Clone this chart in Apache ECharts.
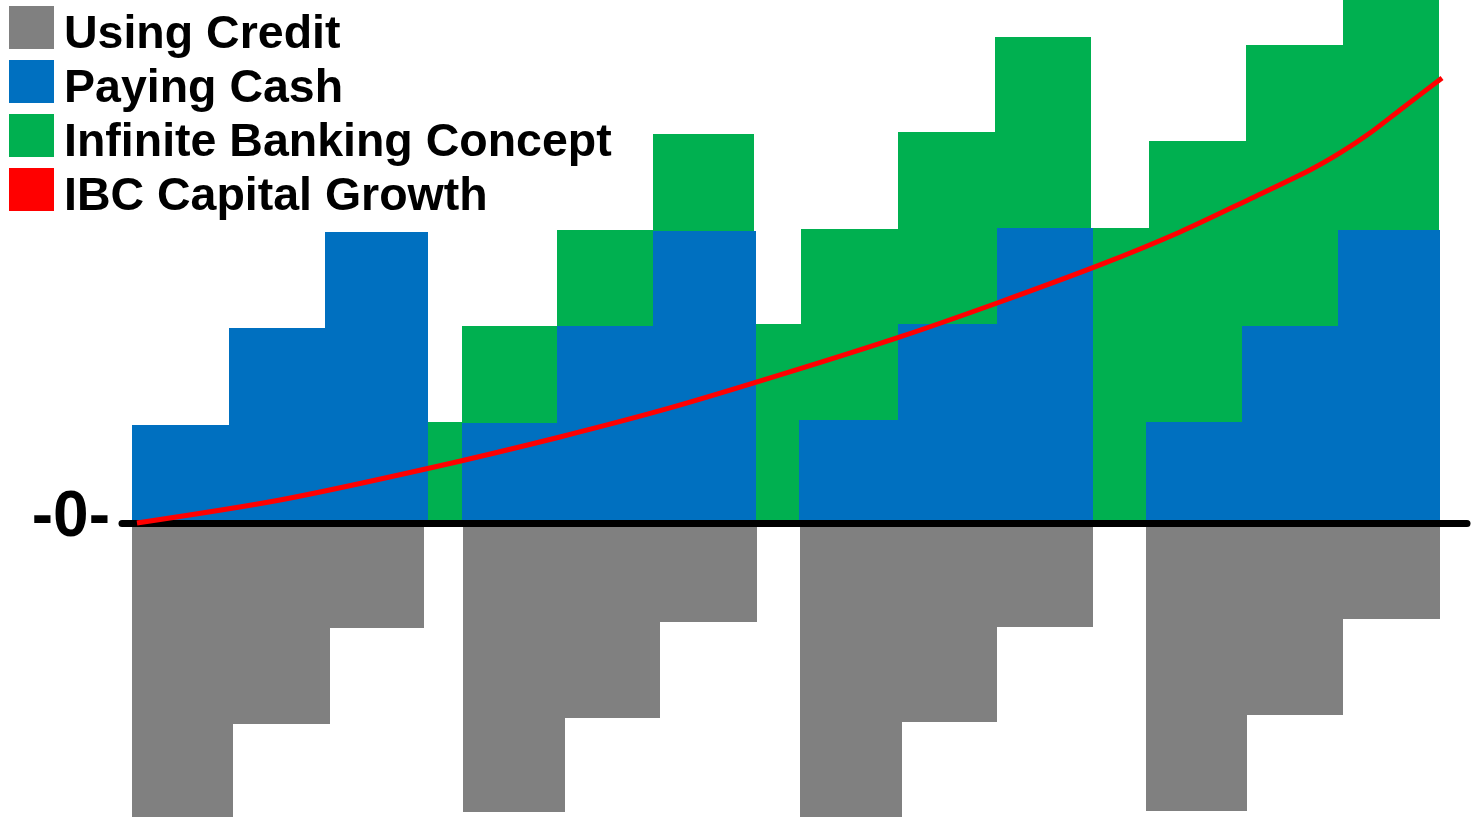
<!DOCTYPE html>
<html>
<head>
<meta charset="utf-8">
<script src="https://cdn.jsdelivr.net/npm/echarts@6/dist/echarts.min.js"></script>
<style>
html,body{margin:0;padding:0;background:#fff;}
#chart{width:1473px;height:817px;}
</style>
</head>
<body>
<div id="chart"></div>
<script>
// ---- data ----
const seriesNames = ['Using Credit', 'Paying Cash', 'Infinite Banking Concept', 'IBC Capital Growth'];

const creditStart = [0, 1.03, 2.03, 3.39, 4.44, 5.41, 6.84, 7.89, 8.86, 10.39, 11.42, 12.41];
const creditEnd   = [1.03, 2.03, 2.99, 4.44, 5.41, 6.40, 7.89, 8.86, 9.85, 11.42, 12.41, 13.40];
const creditValue = [-3.1, -2.07, -1.08, -2.97, -2.0, -1.02, -3.1, -2.05, -1.07, -2.96, -1.97, -0.99];

const cashStart = [0, 0.99, 1.98, 3.38, 4.35, 5.34, 6.83, 7.85, 8.86, 10.39, 11.37, 12.36];
const cashEnd   = [0.99, 1.98, 3.03, 4.35, 5.34, 6.39, 7.85, 8.86, 9.85, 11.37, 12.36, 13.40];
const cashValue = [1.01, 2.0, 2.99, 1.03, 2.02, 3.0, 1.06, 2.05, 3.03, 1.04, 2.02, 3.01];

const ibcStart = [3.03, 3.38, 4.35, 5.34, 6.37, 6.85, 7.85, 8.84, 9.83, 10.42, 11.41, 12.41];
const ibcEnd   = [3.38, 4.35, 5.34, 6.37, 6.85, 7.85, 8.84, 9.83, 10.42, 11.41, 12.41, 13.39];
const ibcValue = [1.04, 2.02, 3.01, 4.0, 2.05, 3.02, 4.02, 4.99, 3.03, 3.93, 4.91, 5.6];

const growthX = [0.051, 1.516, 3.053, 4.385, 5.512, 6.639, 7.869, 8.893, 9.918, 10.738, 11.455, 12.07, 12.377, 12.684, 12.992, 13.422];
const growthY = [0, 0.236, 0.565, 0.884, 1.182, 1.521, 1.912, 2.271, 2.652, 2.991, 3.33, 3.628, 3.803, 4.008, 4.245, 4.573];

const zeroLabel = '-0-';

// ---- chart ----
const colors = {credit: '#808080', cash: '#0070C0', ibc: '#00B050', growth: '#FF0000'};
const FONT = "'Liberation Sans', Arial, Helvetica, sans-serif";

function zip3(a, b, c) { return a.map((v, i) => [v, b[i], c[i]]); }

function renderStep(params, api) {
  const x0 = api.value(0), x1 = api.value(1), v = api.value(2);
  const p0 = api.coord([x0, 0]);
  const p1 = api.coord([x1, v]);
  const left = Math.round(Math.min(p0[0], p1[0]));
  const right = Math.round(Math.max(p0[0], p1[0]));
  const top = Math.round(Math.min(p0[1], p1[1]));
  const bottom = Math.round(Math.max(p0[1], p1[1]));
  const rect = {x: left, y: top, width: right - left, height: bottom - top};
  const cs = params.coordSys;
  const shape = echarts.graphic.clipRectByRect(rect, {x: cs.x, y: cs.y, width: cs.width, height: cs.height});
  if (!shape) return;
  return {type: 'rect', shape: shape, style: {fill: api.visual('color')}};
}

const chart = echarts.init(document.getElementById('chart'), null, {renderer: 'canvas'});
chart.setOption({
  animation: false,
  backgroundColor: '#ffffff',
  grid: {left: 122, right: 6, top: 0, bottom: 0, containLabel: false},
  legend: {
    orient: 'vertical',
    left: 9,
    top: -4,
    padding: 0,
    itemGap: -9,
    itemWidth: 45,
    itemHeight: 43,
    icon: 'rect',
    selectedMode: false,
    formatter: name => '{t|' + name + '}',
    textStyle: {
      color: '#000',
      rich: {
        t: {fontSize: 46.5, fontWeight: 'bold', color: '#000', fontFamily: FONT, lineHeight: 46, padding: [16, 0, 0, 5]}
      }
    },
    data: [
      {name: seriesNames[0], itemStyle: {color: colors.credit}},
      {name: seriesNames[1], itemStyle: {color: colors.cash}},
      {name: seriesNames[2], itemStyle: {color: colors.ibc}},
      {name: seriesNames[3], itemStyle: {color: colors.growth}}
    ]
  },
  xAxis: {
    type: 'value',
    min: -0.10246,
    max: 13.678,
    z: 4,
    axisLine: {show: true, onZero: true, lineStyle: {color: '#000', width: 7}},
    axisTick: {show: false},
    axisLabel: {show: false},
    splitLine: {show: false}
  },
  yAxis: {
    type: 'value',
    min: -3.022,
    max: 5.375,
    axisLine: {show: false},
    axisTick: {show: false},
    splitLine: {show: false},
    axisLabel: {
      show: true,
      margin: 12,
      showMinLabel: false,
      showMaxLabel: false,
      formatter: v => (Math.abs(v) < 1e-9 ? '{z|' + zeroLabel + '}' : ''),
      rich: {
        z: {fontSize: 64, fontWeight: 'bold', color: '#000', fontFamily: FONT, lineHeight: 64, padding: [0, 0, 10, 0]}
      }
    }
  },
  series: [
    {
      name: seriesNames[2], type: 'custom', z: 1,
      itemStyle: {color: colors.ibc},
      encode: {x: [0, 1], y: 2},
      renderItem: renderStep,
      data: zip3(ibcStart, ibcEnd, ibcValue)
    },
    {
      name: seriesNames[1], type: 'custom', z: 2,
      itemStyle: {color: colors.cash},
      encode: {x: [0, 1], y: 2},
      renderItem: renderStep,
      data: zip3(cashStart, cashEnd, cashValue)
    },
    {
      name: seriesNames[0], type: 'custom', z: 2,
      itemStyle: {color: colors.credit},
      encode: {x: [0, 1], y: 2},
      renderItem: renderStep,
      data: zip3(creditStart, creditEnd, creditValue)
    },
    {
      name: seriesNames[3], type: 'line', z: 6,
      smooth: 0.3,
      showSymbol: false,
      symbol: 'none',
      itemStyle: {color: colors.growth},
      lineStyle: {color: colors.growth, width: 5},
      data: growthX.map((x, i) => [x, growthY[i]])
    }
  ]
});
</script>
</body>
</html>
